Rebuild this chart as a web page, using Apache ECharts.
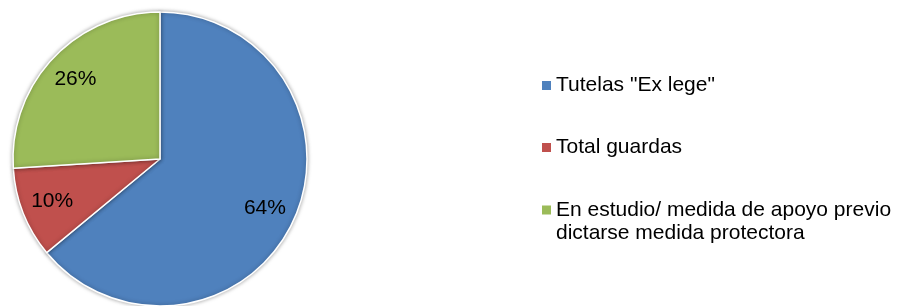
<!DOCTYPE html>
<html>
<head>
<meta charset="utf-8">
<script src="https://cdn.jsdelivr.net/npm/echarts@6/dist/echarts.min.js"></script>
<style>
  html, body { margin: 0; padding: 0; background: #fff; }
  #pieDiv { width: 900px; height: 306px; }
</style>
</head>
<body>
<div id="pieDiv"></div>
<script>
// datos del gráfico
var categorias = ['Tutelas "Ex lege"', 'Total guardas', 'En estudio/ medida de apoyo previo\ndictarse medida protectora'];
var valores = [64, 10, 26];
var colores = ['#4F81BD', '#C0504D', '#9BBB59'];

document.addEventListener('DOMContentLoaded', function () {
    createPie();
});

function buildLegend(name, top, multiLine) {
    var legend = {
        orient: 'vertical',
        left: 542,
        top: top,
        padding: 0,
        itemWidth: 9,
        itemHeight: 9,
        icon: 'rect',
        selectedMode: false,
        itemStyle: { borderWidth: 0, shadowBlur: 0 },
        data: [name],
        textStyle: {
            fontFamily: 'Liberation Sans, Arial',
            fontSize: 21,
            lineHeight: 23,
            color: '#000'
        }
    };
    if (multiLine) {
        // primera línea alineada con el icono
        legend.formatter = function (n) { return '{t|' + n + '}'; };
        legend.textStyle.padding = [23, 0, 0, 0];
        legend.textStyle.backgroundColor = 'rgba(255,255,255,0)';
        legend.textStyle.rich = {
            t: { fontFamily: 'Liberation Sans, Arial', fontSize: 21, lineHeight: 23, color: '#000' }
        };
    }
    return legend;
}

function createPie() {
    var serieData = [];
    for (var i = 0; i < categorias.length; i++) {
        serieData.push({ name: categorias[i], value: valores[i], itemStyle: { color: colores[i] } });
    }
    var option = {
        animation: false,
        legend: [
            buildLegend(categorias[0], 74, false),
            buildLegend(categorias[1], 136, false),
            buildLegend(categorias[2], 175.5, true)
        ],
        series: [{
            type: 'pie',
            radius: [0, 147],
            center: [160, 159],
            startAngle: 90,
            clockwise: true,
            label: { show: false },
            labelLine: { show: false },
            itemStyle: {
                borderColor: '#fff',
                borderWidth: 1.5,
                shadowBlur: 4,
                shadowColor: 'rgba(0,0,0,0.35)'
            },
            emphasis: { disabled: true },
            data: serieData
        }, {
            // serie transparente solo para colocar las etiquetas
            type: 'pie',
            radius: [79, 147],
            center: [160, 159],
            startAngle: 90,
            clockwise: true,
            silent: true,
            itemStyle: { color: 'rgba(0,0,0,0)' },
            label: {
                show: true,
                position: 'inside',
                formatter: '{d}%',
                fontFamily: 'Liberation Sans, Arial',
                fontSize: 21,
                color: '#000'
            },
            labelLine: { show: false },
            emphasis: { disabled: true },
            data: categorias.map(function (c, i) { return { name: c, value: valores[i] }; })
        }]
    };
    var echart = echarts.init(document.getElementById('pieDiv'));
    echart.setOption(option, true);
}
</script>
</body>
</html>
